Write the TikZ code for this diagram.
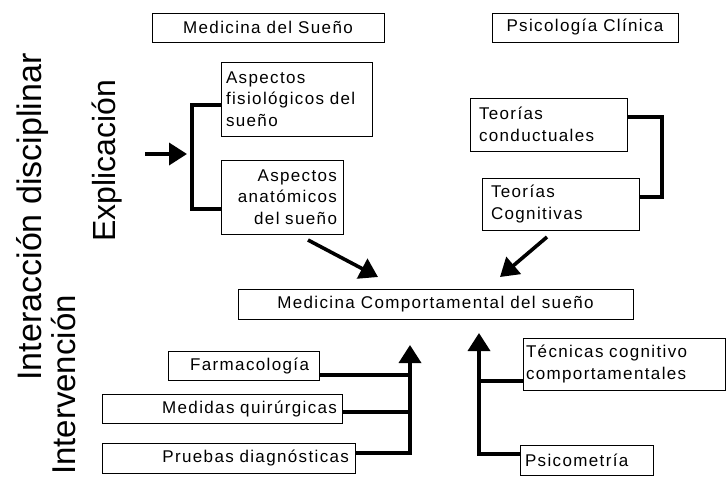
\documentclass[tikz,border=0pt]{standalone}
\usepackage{fontspec}
\setmainfont{Liberation Sans}
\newfontfamily\boxfont[LetterSpace=8]{Liberation Sans}
\usetikzlibrary{arrows.meta}
\begin{document}
\begin{tikzpicture}[x=1pt,y=-1pt,
  box/.style={draw=black, line width=0.8pt, inner ysep=0pt, outer sep=0pt, anchor=north west,
    font=\boxfont\fontsize{17}{21.5}\selectfont},
  conn/.style={line width=3.6pt, line cap=butt, line join=miter},
  arr/.style={conn, -{Triangle[length=18pt,width=22pt]}},
  side/.style={font=\fontsize{33}{36}\selectfont, inner sep=0pt, rotate=90, anchor=base}
]
\useasboundingbox[fill=white] (0,0) rectangle (726,477);

% side labels
\node[side, font=\fontsize{34}{36}\selectfont] (inter) at (41,217) {Interacción disciplinar};
\node[side, font=\fontsize{32}{36}\selectfont] (expl) at (115,161) {Explicación};
\node[side] (interv) at (75,385) {Intervención};

% boxes
\node[box, minimum width=232pt, minimum height=29pt, align=center] (med) at (152,13) {Medicina del Sueño};
\node[box, minimum width=186pt, minimum height=29pt, align=center] (psi) at (492,13) {Psicología Clínica};
\node[box, minimum height=74pt, inner xsep=5pt, text width=141pt, align=left] (fis) at (221,62) {Aspectos\\fisiológicos del\\sueño};
\node[box, minimum height=74pt, inner xsep=6pt, text width=110pt, align=right] (ana) at (221,160) {Aspectos\\anatómicos\\del sueño};
\node[box, minimum height=53pt, inner xsep=9pt, text width=139pt, align=left] (cond) at (470,98) {Teorías\\conductuales};
\node[box, minimum height=52pt, inner xsep=9pt, text width=139pt, align=left] (cog) at (482,178) {Teorías\\Cognitivas};
\node[box, minimum width=395pt, minimum height=30pt, align=center] (main) at (238,289) {Medicina Comportamental del sueño};
\node[box, minimum height=29pt, inner xsep=10pt, text width=131pt, align=right] (farm) at (168,351) {Farmacología};
\node[box, minimum height=29pt, inner xsep=5pt, text width=230pt, align=right] (medq) at (102,394) {Medidas quirúrgicas};
\node[box, minimum height=30pt, inner xsep=6pt, text width=241pt, align=right] (prue) at (102,443) {Pruebas diagnósticas};
\node[box, minimum height=52pt, inner xsep=3pt, text width=196pt, align=left] (tec) at (523,338) {Técnicas cognitivo\\comportamentales};
\node[box, minimum height=30pt, inner xsep=5pt, text width=123pt, align=left] (psico) at (520,445) {Psicometría};

% free ends
\coordinate (inA) at (145,154);
\coordinate (inB) at (187,154);
\coordinate (d1s) at (308,240);
\coordinate (d1e) at (378,277);
\coordinate (d2s) at (547,237);
\coordinate (d2e) at (500,277);
\coordinate (ltop) at (410,345);
\coordinate (rtop) at (479,333);

% upper brackets
\draw[conn] ([yshift=-6pt]fis.west) -- ++(-29,0) |- ([yshift=-12pt]ana.west);
\draw[conn] ([yshift=7.5pt]cond.east) -- ++(35,0) |- ([yshift=7pt]cog.east);
\draw[arr] (inA) -- (inB);

% diagonal arrows
\draw[arr] (d1s) -- (d1e);
\draw[arr] (d2s) -- (d2e);

% lower left
\draw[arr] ([yshift=5pt]prue.east) -| (ltop);
\draw[conn] ([yshift=-3.5pt]medq.east) -- ++(68,0);
\draw[conn] ([yshift=-9.5pt]farm.east) -- ++(91,0);

% lower right
\draw[arr] ([yshift=6pt]psico.west) -| (rtop);
\draw[conn] ([yshift=-17pt]tec.west) -- ++(-44,0);
\end{tikzpicture}
\end{document}
